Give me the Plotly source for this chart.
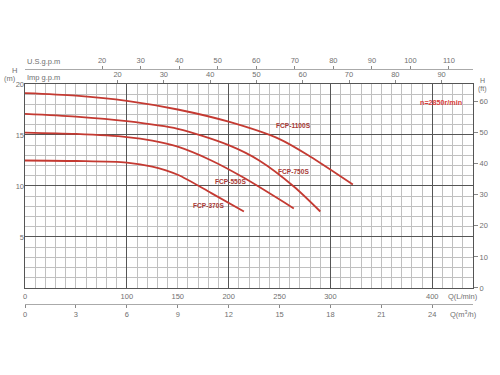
import plotly.graph_objects as go

# ---- data (Q in L/min, H in m) ----
q_1100 = [0, 50, 100, 150, 200, 250, 280, 322]
h_1100 = [19.1, 18.85, 18.35, 17.5, 16.3, 14.6, 12.9, 10.15]

q_750 = [0, 50, 100, 150, 200, 230, 264, 290]
h_750 = [17.07, 16.8, 16.35, 15.6, 14.0, 12.5, 9.95, 7.5]

q_550 = [0, 50, 100, 125, 150, 183, 215, 264]
h_550 = [15.24, 15.1, 14.8, 14.45, 13.85, 12.5, 10.8, 7.8]

q_370 = [0, 50, 100, 125, 150, 183, 215]
h_370 = [12.5, 12.45, 12.3, 11.9, 11.1, 9.3, 7.5]

series_names = ["FCP-1100S", "FCP-750S", "FCP-550S", "FCP-370S"]
label_q = [264, 264, 202, 180]
label_h = [15.96, 11.46, 10.47, 8.08]

q_lmin_ticks = [0, 100, 150, 200, 250, 300, 400]
q_m3h_ticks = [0, 3, 6, 9, 12, 15, 18, 21, 24]
us_gpm_ticks = [20, 30, 40, 50, 60, 70, 80, 90, 100, 110]
imp_gpm_ticks = [20, 30, 40, 50, 60, 70, 80, 90]
h_m_ticks = [5, 10, 15, 20]
h_ft_ticks = [0, 10, 20, 30, 40, 50, 60]

Q_MAX = 440
H_MAX = 20

FONT = "Liberation Sans, Arial, sans-serif"
GRAY = "#707070"
CURVE = "#c43a32"
LABEL = "#a83a36"

fig = go.Figure()
for q, h in [(q_1100, h_1100), (q_750, h_750), (q_550, h_550), (q_370, h_370)]:
    fig.add_trace(go.Scatter(x=q, y=h, mode="lines",
                             line=dict(color=CURVE, width=1.8, shape="spline", smoothing=0.8),
                             hoverinfo="skip", showlegend=False))

tickfont = dict(family=FONT, size=7.5, color=GRAY)

fig.update_layout(
    width=500, height=375,
    margin=dict(l=25, r=23, t=60, b=60),
    paper_bgcolor="white", plot_bgcolor="white",
    showlegend=False,
    xaxis=dict(range=[0, Q_MAX], domain=[0, 1], anchor="y", tick0=0, dtick=100,
               showgrid=True, gridcolor="#555555", gridwidth=1,
               minor=dict(dtick=10, tick0=0, showgrid=True, gridcolor="#c0c0c0", gridwidth=1),
               showticklabels=False, ticks="", showline=True, mirror=True,
               linecolor="#555555", linewidth=1, zeroline=False),
    xaxis2=dict(range=[0, Q_MAX], overlaying="x", anchor="y", side="bottom",
                tickmode="array", tickvals=q_lmin_ticks, showgrid=False, zeroline=False,
                ticks="", tickfont=tickfont, showline=False, ticklabelstandoff=3),
    xaxis3=dict(range=[0, Q_MAX / 4.54609], overlaying="x", anchor="y", side="top",
                tickmode="array", tickvals=imp_gpm_ticks, showgrid=False, zeroline=False,
                ticks="outside", ticklen=3, tickcolor="#888888", tickfont=tickfont, showline=False),
    xaxis4=dict(range=[0, Q_MAX / 3.78541], overlaying="x", anchor="free", position=0.9647, side="top",
                tickmode="array", tickvals=us_gpm_ticks, showgrid=False, zeroline=False,
                ticks="outside", ticklen=3, tickcolor="#888888", tickfont=tickfont,
                showline=True, linecolor="#aaaaaa", linewidth=1),
    xaxis5=dict(range=[0, Q_MAX * 0.06], overlaying="x", anchor="free", position=0.0431, side="bottom",
                tickmode="array", tickvals=q_m3h_ticks, showgrid=False, zeroline=False,
                ticks="outside", ticklen=3, tickcolor="#888888", tickfont=tickfont,
                showline=True, linecolor="#aaaaaa", linewidth=1),
    yaxis=dict(range=[0, H_MAX], domain=[0.1059, 0.9059], anchor="x", tick0=0, dtick=5,
               showgrid=True, gridcolor="#555555", gridwidth=1,
               minor=dict(dtick=1, tick0=0, showgrid=True, gridcolor="#c0c0c0", gridwidth=1),
               showticklabels=False, ticks="", zeroline=False, showline=True, mirror=True,
               linecolor="#555555", linewidth=1),
    yaxis2=dict(range=[0, H_MAX * 3.28084], overlaying="y", anchor="x", side="right",
                tickmode="array", tickvals=h_ft_ticks, showgrid=False, zeroline=False,
                ticks="outside", ticklen=4, tickcolor="#888888", tickfont=tickfont, showline=False),
    yaxis3=dict(range=[0, H_MAX], overlaying="y", anchor="x", side="left",
                tickmode="array", tickvals=h_m_ticks, showgrid=False, zeroline=False,
                ticks="", tickfont=tickfont, showline=False),
)

# invisible traces to activate extra axes
for xa, ya in [("x2", "y"), ("x3", "y"), ("x4", "y"), ("x5", "y"), ("x", "y2"), ("x", "y3")]:
    fig.add_trace(go.Scatter(x=[None], y=[None], xaxis=xa, yaxis=ya, mode="lines",
                             showlegend=False, hoverinfo="skip"))

annots = []
for name, qx, hy in zip(series_names, label_q, label_h):
    annots.append(dict(x=qx, y=hy, xref="x", yref="y", text="<b>%s</b>" % name, showarrow=False,
                       font=dict(family=FONT, size=6.6, color=LABEL)))

def pa(text, x, y, xanchor="center", color=GRAY, size=7.5, bold=False):
    t = "<b>%s</b>" % text if bold else text
    annots.append(dict(x=(x - 25) / 452, y=(315 - y) / 255, xref="paper", yref="paper", text=t,
                       showarrow=False, xanchor=xanchor, yanchor="middle",
                       font=dict(family=FONT, size=size, color=color)))

pa("U.S.g.p.m", 25, 61, xanchor="left")
pa("Imp g.p.m", 25, 77, xanchor="left")
pa("H", 14, 71)
pa("(m)", 10, 79)
pa("H", 487, 80, size=7)
pa("(ft)", 487, 89, size=7)
pa("Q(L/min)", 467, 296)
pa("Q(m<sup>3</sup>/h)", 467, 314)
pa("n=2850r/min", 444.5, 102, color="#d9403a", bold=True, size=7.2)

fig.update_layout(annotations=annots)
fig.write_html("out.html")
